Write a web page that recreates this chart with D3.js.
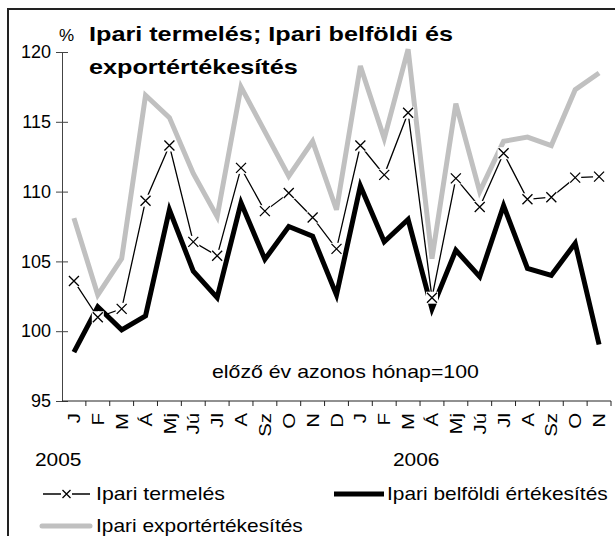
<!DOCTYPE html>
<html>
<head>
<meta charset="utf-8">
<script src="https://cdn.jsdelivr.net/npm/d3@7"></script>
<style>
  body { margin: 0; background: #fff; }
  svg text { font-family: Arial, "Liberation Sans", sans-serif; fill: #000; }
</style>
</head>
<body>
<div class="canvas"></div>
<script>
// months, 2005 J .. 2006 N
const months = ['J','F','M','Á','Mj','Jú','Jl','A','Sz','O','N','D',
                'J','F','M','Á','Mj','Jú','Jl','A','Sz','O','N'];
const years = ['2005', '2006'];
const yTicks = [95, 100, 105, 110, 115, 120];

// előző év azonos hónap = 100
const termeles = [103.6, 101.0, 101.6, 109.35, 113.3, 106.4, 105.4, 111.7, 108.6, 109.9, 108.15, 105.9,
                  113.3, 111.2, 115.65, 102.4, 110.95, 108.9, 112.75, 109.45, 109.6, 111.0, 111.07];
const belfoldi = [98.5, 101.75, 100.1, 101.1, 108.7, 104.3, 102.4, 109.2, 105.15, 107.5, 106.8, 102.6,
                  110.4, 106.4, 108.0, 101.6, 105.8, 103.9, 109.0, 104.5, 104.0, 106.3, 99.05];
const exportert = [108.1, 102.6, 105.2, 116.9, 115.3, 111.3, 108.2, 117.5, 114.3, 111.1, 113.6, 108.7,
                   119.0, 113.8, 120.2, 105.2, 116.3, 110.0, 113.6, 113.9, 113.3, 117.3, 118.5];

const seriesNames = ['Ipari termelés', 'Ipari belföldi értékesítés', 'Ipari exportértékesítés'];

const width = 615, height = 536;

const svg = d3.select('.canvas')
  .append('svg')
    .attr('width', width)
    .attr('height', height);

// outer frame (runs off the right and bottom edge)
svg.append('rect')
  .attr('x', 8).attr('y', 9)
  .attr('width', 640).attr('height', 560)
  .attr('fill', 'none')
  .attr('stroke', '#222')
  .attr('stroke-width', 2);

// scales
const idx = months.map((m, i) => i);
const x = d3.scaleBand()
  .domain(idx)
  .range([62, 611]);
const y = d3.scaleLinear()
  .domain([95, 120])
  .range([401, 52]);
const cx = i => x(i) + x.bandwidth() / 2;

// the original font runs wide: stretch each text along its baseline
function stretch(sel, k) {
  sel.each(function() {
    const len = this.getComputedTextLength();
    d3.select(this)
      .attr('textLength', len * k)
      .attr('lengthAdjust', 'spacingAndGlyphs');
  });
  return sel;
}

// y axis
const yAxis = d3.axisLeft(y)
  .tickValues(yTicks)
  .tickSizeInner(6)
  .tickSizeOuter(0)
  .tickPadding(5);
const yAxisGroup = svg.append('g')
  .attr('transform', 'translate(62,0)')
  .call(yAxis);
yAxisGroup.select('.domain').attr('stroke', '#444');
yAxisGroup.selectAll('.tick line')
  .attr('x1', 6).attr('x2', -6)
  .attr('stroke', '#444');
yAxisGroup.selectAll('text')
  .attr('x', -11)
  .style('font-size', '18px')
  .style('font-family', 'Arial, "Liberation Sans", sans-serif');

// x axis: ticks on the band edges
const xAxisGroup = svg.append('g');
xAxisGroup.append('line')
  .attr('x1', x.range()[0]).attr('x2', x.range()[1])
  .attr('y1', y(95)).attr('y2', y(95))
  .attr('stroke', '#222');
const edges = idx.map(i => x(i)).concat([x.range()[1]]);
xAxisGroup.selectAll('line.tk')
  .data(edges.slice(1))
  .enter().append('line')
    .attr('class', 'tk')
    .attr('x1', d => d).attr('x2', d => d)
    .attr('y1', y(95)).attr('y2', y(95) + 5)
    .attr('stroke', '#222');
const monthLabels = xAxisGroup.selectAll('text')
  .data(months)
  .enter().append('text')
    .attr('transform', (d, i) => `translate(${cx(i)}, 413) rotate(-90)`)
    .attr('text-anchor', 'end')
    .attr('dy', '0.36em')
    .style('font-size', '17px')
    .text(d => d);
stretch(monthLabels, 1.2);

// years
const yearLabels = svg.selectAll('text.year')
  .data(years)
  .enter().append('text')
    .attr('class', 'year')
    .attr('x', (d, i) => i === 0 ? 35 : 393)
    .attr('y', 466)
    .style('font-size', '19px')
    .text(d => d);
stretch(yearLabels, 1.1);

// title
svg.append('text')
  .attr('x', 59).attr('y', 41)
  .style('font-size', '17px')
  .text('%');
stretch(svg.append('text')
  .attr('x', 89).attr('y', 41)
  .style('font-size', '21px')
  .style('font-weight', 'bold')
  .text('Ipari termelés; Ipari belföldi és'), 1.2);
stretch(svg.append('text')
  .attr('x', 89).attr('y', 74)
  .style('font-size', '21px')
  .style('font-weight', 'bold')
  .text('exportértékesítés'), 1.2);

// note
stretch(svg.append('text')
  .attr('x', 212).attr('y', 378)
  .style('font-size', '19px')
  .text('előző év azonos hónap=100'), 1.12);

// lines
const line = d3.line()
  .x((d, i) => cx(i))
  .y(d => y(d));

svg.append('path')
  .attr('d', line(exportert))
  .attr('fill', 'none')
  .attr('stroke', '#c0c0c0')
  .attr('stroke-width', 5)
  .attr('stroke-linejoin', 'miter');

svg.append('path')
  .attr('d', line(belfoldi))
  .attr('fill', 'none')
  .attr('stroke', '#000')
  .attr('stroke-width', 5)
  .attr('stroke-linejoin', 'miter');

svg.append('path')
  .attr('d', line(termeles))
  .attr('fill', 'none')
  .attr('stroke', '#000')
  .attr('stroke-width', 1.3);

// x markers with a white box behind them
function xMarker(g, px, py) {
  g.append('rect')
    .attr('x', px - 6).attr('y', py - 6)
    .attr('width', 12).attr('height', 12)
    .attr('fill', '#fff');
  g.append('path')
    .attr('d', `M${px - 5},${py - 5}L${px + 5},${py + 5}M${px - 5},${py + 5}L${px + 5},${py - 5}`)
    .attr('stroke', '#000')
    .attr('stroke-width', 1.3);
}
const markers = svg.append('g');
termeles.forEach((d, i) => xMarker(markers, cx(i), y(d)));

// legend
const legend = svg.append('g');
legend.append('line')
  .attr('x1', 43).attr('x2', 90).attr('y1', 494).attr('y2', 494)
  .attr('stroke', '#000').attr('stroke-width', 1.3);
const lm = legend.append('g');
lm.append('rect').attr('x', 61).attr('y', 489).attr('width', 11).attr('height', 10).attr('fill', '#fff');
lm.append('path')
  .attr('d', 'M62.5,490L70.5,498M62.5,498L70.5,490')
  .attr('stroke', '#000').attr('stroke-width', 1.3);
stretch(legend.append('text')
  .attr('x', 96).attr('y', 500)
  .style('font-size', '19px')
  .text(seriesNames[0]), 1.12);

legend.append('line')
  .attr('x1', 334).attr('x2', 384).attr('y1', 494).attr('y2', 494)
  .attr('stroke', '#000').attr('stroke-width', 5);
stretch(legend.append('text')
  .attr('x', 387).attr('y', 500)
  .style('font-size', '19px')
  .text(seriesNames[1]), 1.1);

legend.append('line')
  .attr('x1', 42).attr('x2', 90).attr('y1', 526).attr('y2', 526)
  .attr('stroke', '#c0c0c0').attr('stroke-width', 5)
  .attr('stroke-linecap', 'round');
stretch(legend.append('text')
  .attr('x', 96).attr('y', 532)
  .style('font-size', '19px')
  .text(seriesNames[2]), 1.1);
</script>
</body>
</html>
